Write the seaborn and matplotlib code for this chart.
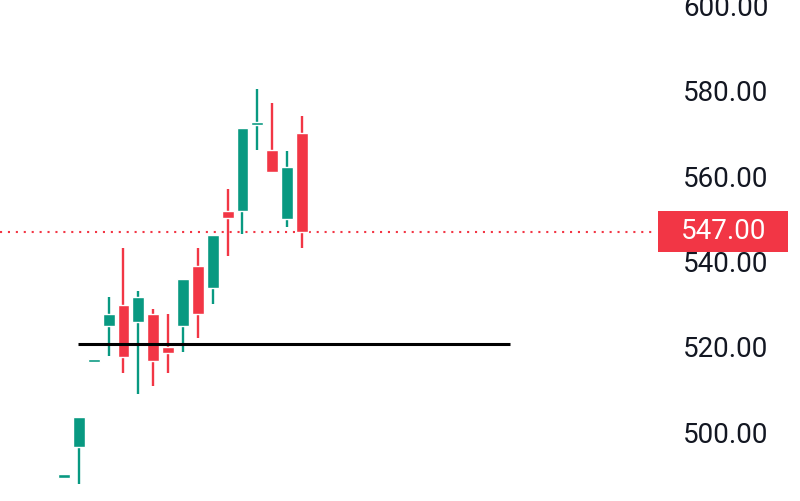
import matplotlib
matplotlib.use('Agg')
import matplotlib.pyplot as plt
import matplotlib.transforms as mtransforms
from matplotlib.patches import Rectangle
import numpy as np
import seaborn as sns

# candle data
opens = [489.5, 496.6, 516.6, 524.8, 529.9, 525.8, 527.8, 520.1, 524.8, 539.0, 533.9, 551.9, 551.9, 572.0, 566.2, 550.0, 570.1]
closes = [490.0, 503.7, 517.1, 527.8, 517.7, 531.8, 516.8, 518.7, 536.0, 527.8, 546.2, 550.1, 571.3, 572.6, 560.9, 562.1, 547.0]
highs = [490.0, 503.7, 517.1, 531.8, 543.1, 533.1, 528.9, 527.8, 536.0, 543.1, 546.2, 557.0, 571.3, 580.3, 577.2, 566.0, 574.0]
lows = [489.5, 487.8, 516.6, 518.0, 514.0, 508.9, 510.9, 514.0, 518.9, 522.0, 530.0, 541.3, 546.4, 566.2, 560.9, 548.2, 543.2]
last_price = 547.0
support_level = 520.8
support_span = (0.95, 30.0)
price_ticks = [500, 520, 540, 560, 580, 600]

green = '#089981'
red = '#F23645'

sns.set_theme(style='white')
plt.rcParams['font.family'] = ['Roboto', 'DejaVu Sans']

fig = plt.figure(figsize=(8, 5.01), dpi=100)
ax = fig.add_axes([0, 0, 1, 1])

x = np.arange(len(opens))
o = np.array(opens)
c = np.array(closes)
colors = [green if cc >= oo else red for oo, cc in zip(o, c)]

# bodies get a minimum height so dojis stay visible
body_h = np.maximum(np.abs(c - o), 0.8)
body_bottom = (o + c) / 2 - body_h / 2

ax.vlines(x, lows, highs, colors=colors, lw=1.7, zorder=2)
ax.bar(x, body_h, bottom=body_bottom, width=0.8, color=colors, zorder=3)

# support line
ax.hlines(support_level, support_span[0], support_span[1], color='black', lw=2.2, zorder=4)

# last price line and label
ax.axhline(last_price, xmax=0.82, color=red, lw=1.5, ls=(0, (1, 2.8)), zorder=1)
trans = mtransforms.blended_transform_factory(ax.transAxes, ax.transData)
ax.add_patch(Rectangle((0.822, last_price - 4.8), 0.163, 9.6, transform=trans,
                       facecolor=red, edgecolor='none', zorder=6))
ax.text(0.904, last_price, f'{last_price:.2f}', transform=trans, color='white',
        fontsize=20, ha='center', va='center', zorder=7)

ax.set_xlim(-4.30, 49.48)
ax.set_ylim(483.93, 601.26)

ax.yaxis.tick_right()
ax.set_yticks(price_ticks)
ax.set_yticklabels([f'{t:.2f}' for t in price_ticks])
ax.tick_params(axis='y', length=0, pad=-84, labelsize=20, labelcolor='#131722')
ax.set_xticks([])
sns.despine(ax=ax, left=True, bottom=True, right=True, top=True)
ax.grid(False)

fig.savefig('out.png', dpi=100)
